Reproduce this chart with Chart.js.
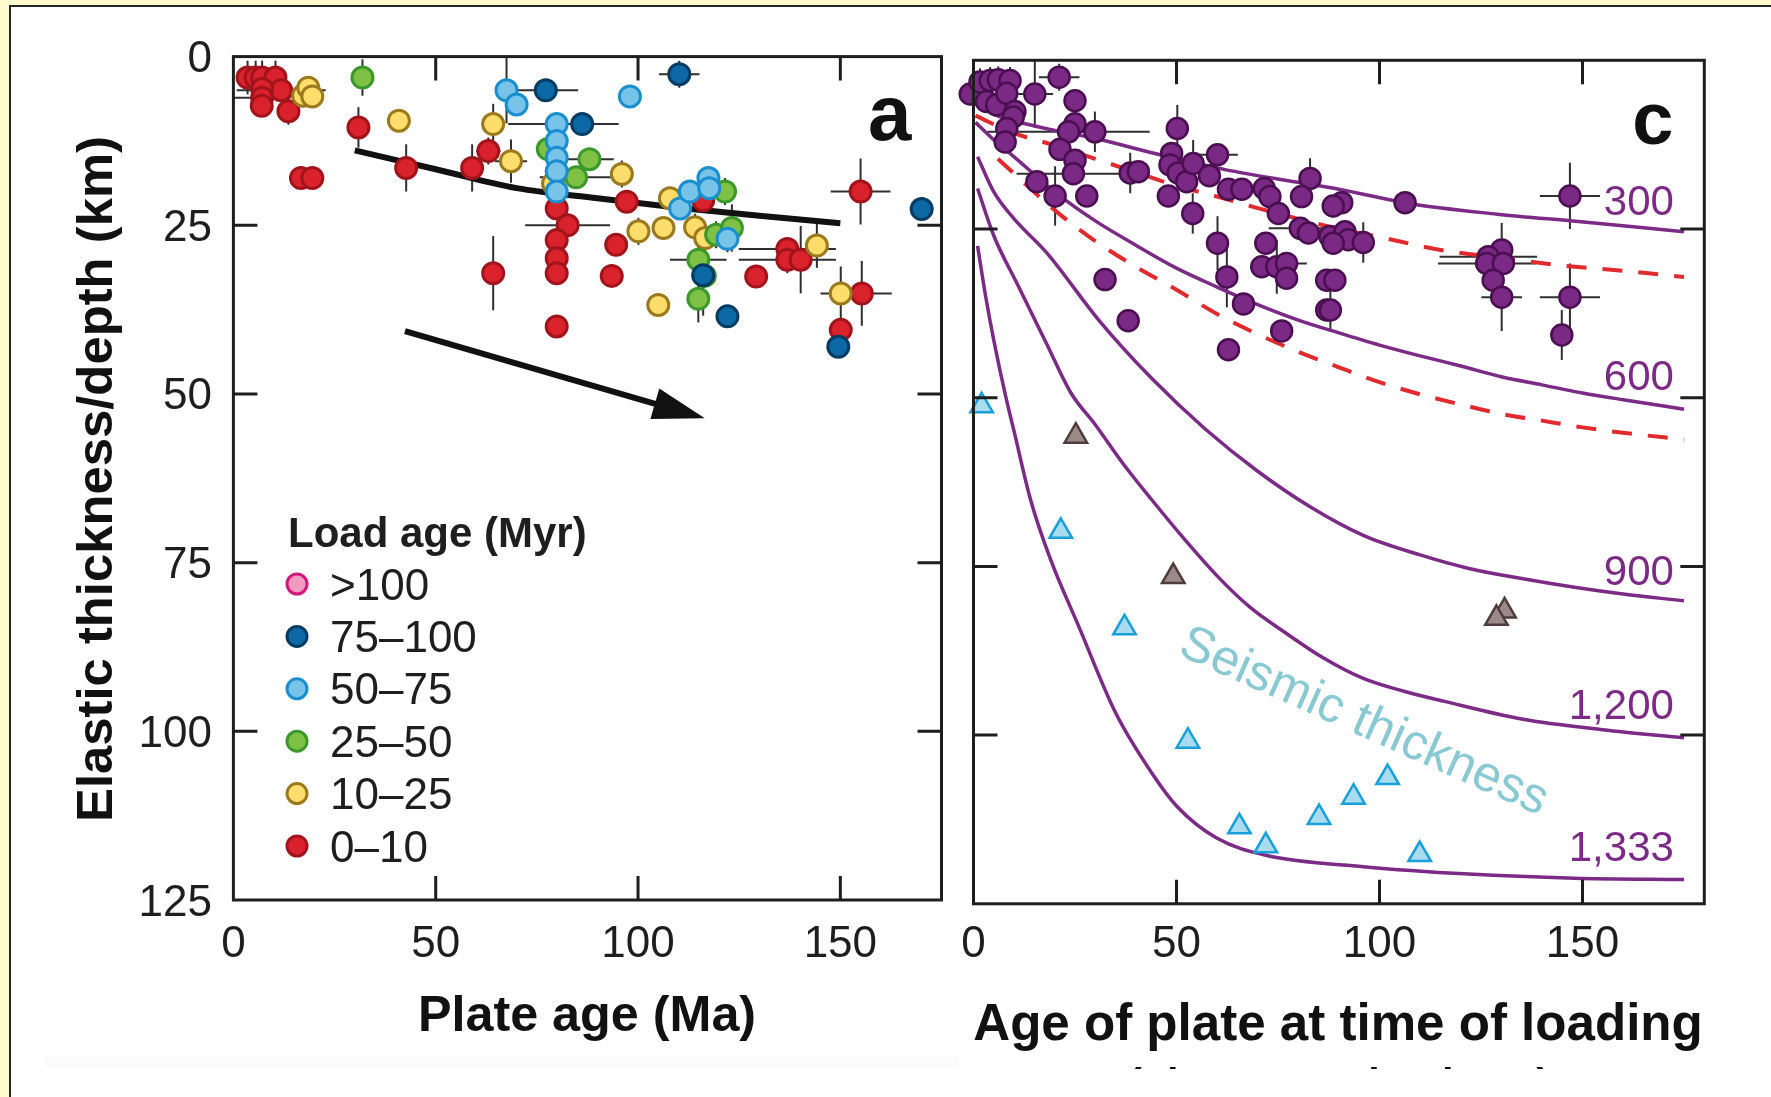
<!DOCTYPE html>
<html lang="en">
<head>
<meta charset="utf-8">
<title>Elastic thickness vs plate age</title>
<script src="https://cdn.jsdelivr.net/npm/chart.js@4.4.1/dist/chart.umd.min.js"></script>
<style>
    html, body { margin: 0; padding: 0; background: #ffffff; }
    body { position: relative; width: 1771px; height: 1097px; overflow: hidden; }
    .edge { position: absolute; }
    #strip-left { left: 0; top: 0; width: 9px; height: 1097px; background: #fffacd; }
    #strip-top { left: 0; top: 0; width: 1771px; height: 5px; background: #fffacd; }
    #rule-left { left: 9px; top: 5px; width: 2px; height: 1092px; background: #262626; }
    #rule-top { left: 9px; top: 5px; width: 1762px; height: 2px; background: #262626; }
    canvas { position: absolute; left: 0; top: 0; }
</style>
</head>
<body>
<div class="edge" id="strip-left"></div>
<div class="edge" id="strip-top"></div>
<div class="edge" id="rule-left"></div>
<div class="edge" id="rule-top"></div>
<canvas id="panel-a" width="1771" height="1097"></canvas>
<canvas id="panel-c" width="1771" height="1097"></canvas>
<script>
const FONT = "\"Liberation Sans\", Arial, Helvetica, sans-serif";
const INK = "#1e1e1e";
const TICK_LEN = 24;

// ---------- panel a: Te against plate age, coloured by load age ----------
const plateAgeTicks = [0, 50, 100, 150];
const depthTicks = [0, 25, 50, 75, 100, 125];
const innerXMarks = [50, 100, 150];
const innerYMarks = [25, 50, 75, 100];

const loadAgeLabels = [">100", "75–100", "50–75", "25–50", "10–25", "0–10"];
const loadAgeFills = ["#f29bc1", "#0d68a6", "#78c4e9", "#7fc144", "#fddd6c", "#d9222b"];
const loadAgeEdges = ["#d3177c", "#063b62", "#1a8fd0", "#3a982c", "#9a7a1c", "#a2141c"];

// rows: [plate age (Ma), Te (km), age error, Te error]
const loadOver100 = [];
const load75to100 = [
    [77.2, 5.0, 8, 1.5], [86.2, 10.0, 9, 0], [110.2, 2.6, 5, 2], [116.1, 32.4, 0, 6],
    [122.1, 38.5, 0, 0], [149.5, 43.0, 0, 0], [170.1, 22.6, 0, 1.5],
];
const load50to75 = [
    [67.5, 5.0, 0, 4.9], [70.0, 7.1, 0, 0], [98.0, 5.9, 0, 0], [79.9, 10.0, 12, 0],
    [79.9, 12.5, 0, 0], [79.9, 15.0, 0, 0], [79.9, 17.0, 0, 0], [79.9, 20.0, 0, 0],
    [110.4, 22.5, 0, 0], [112.8, 20.0, 0, 0], [117.4, 18.0, 0, 0], [117.6, 19.5, 0, 0],
    [122.1, 27.0, 0, 2],
];
const load25to50 = [
    [31.9, 3.1, 0, 2.7], [77.7, 13.7, 0, 0], [84.7, 17.9, 9, 0], [88.0, 15.2, 6, 0],
    [121.5, 20.0, 0, 2], [119.3, 26.4, 0, 2], [123.2, 25.4, 0, 3.5], [114.9, 30.1, 7, 2.5],
    [116.5, 32.5, 0, 0], [114.9, 35.9, 0, 3.5],
];
const load10to25 = [
    [17.2, 5.8, 5, 0], [18.5, 4.6, 0, 0], [19.5, 5.9, 0, 0], [40.9, 9.5, 0, 0],
    [64.2, 10.0, 0, 3], [68.6, 15.5, 4, 3.2], [79.0, 18.8, 0, 0], [96.0, 17.4, 0, 2],
    [107.9, 21.0, 0, 0], [100.1, 25.9, 0, 2], [106.3, 25.4, 0, 0], [114.1, 25.3, 0, 2],
    [116.6, 26.9, 0, 2], [105.0, 36.8, 0, 1], [144.2, 28.0, 0, 3.3], [150.1, 35.1, 5, 4],
];
const load0to10 = [
    [3.5, 3.1, 0, 2.5], [5.5, 3.1, 0, 2.5], [7.1, 3.1, 0, 2.5], [10.4, 3.1, 0, 2.5],
    [11.8, 5.0, 11, 0], [7.1, 4.8, 0, 0], [7.1, 6.1, 7, 0], [7.0, 7.3, 0, 0],
    [13.6, 8.1, 0, 2], [16.7, 18.0, 0, 0], [19.5, 18.0, 0, 0], [30.9, 10.5, 0, 3],
    [42.7, 16.5, 0, 3.5], [59.0, 16.5, 0, 3.5], [63.0, 14.0, 3, 2], [64.2, 32.1, 0, 5.5],
    [79.9, 22.5, 0, 0], [82.6, 25.0, 10.5, 0], [79.9, 27.2, 0, 0], [79.9, 29.9, 0, 0],
    [79.9, 32.1, 0, 0.8], [79.9, 40.0, 0, 0], [97.2, 21.5, 0, 0], [116.1, 21.3, 0, 0],
    [94.6, 27.9, 0, 1.5], [93.5, 32.5, 0, 0], [129.2, 32.6, 0, 1.5], [136.9, 28.5, 12, 0],
    [136.9, 30.1, 12, 2], [140.2, 30.1, 0, 5], [155.0, 20.0, 7.4, 4.9], [155.3, 35.1, 7.4, 4.8],
    [150.1, 40.5, 0, 0],
];

const trendAge = [30, 50, 70, 90, 110, 130, 150];
const trendTe = [13.9, 16.7, 19.5, 21.0, 22.4, 23.6, 24.7];
const arrowFrom = [42.4, 40.7];
const arrowTo = [116.5, 53.6];

// ---------- panel c: Te against age of plate at time of loading ----------
const loadingAgeTicks = [0, 50, 100, 150];

const purpleTe = [
    [-0.8, 5.0, 0, 0], [1.6, 3.2, 0, 2], [4.1, 3.0, 0, 2], [6.1, 2.9, 0, 2], [9.0, 3.0, 0, 2],
    [3.2, 6.1, 0, 0], [5.7, 6.6, 0, 0], [8.2, 4.9, 0, 0], [10.2, 7.6, 0, 0], [9.8, 8.4, 0, 0],
    [8.2, 10.1, 0, 0], [7.8, 12.1, 0, 0], [15.1, 5.0, 4.5, 5], [21.1, 2.5, 5, 2],
    [25.0, 6.0, 0, 0], [25.0, 9.4, 0, 0], [23.4, 10.6, 20, 0], [29.9, 10.6, 0, 3],
    [21.3, 13.2, 0, 0], [25.0, 14.8, 0, 0], [24.6, 16.8, 14, 0], [27.9, 20.1, 0, 0],
    [15.6, 18.0, 0, 0], [20.1, 20.1, 0, 4.4], [32.4, 32.5, 0, 0], [38.1, 38.6, 0, 0],
    [38.6, 16.7, 0, 3], [40.6, 16.5, 0, 0], [50.2, 10.1, 0, 3.5], [48.8, 13.8, 0, 0],
    [48.4, 15.5, 0, 0], [50.4, 16.7, 0, 0], [52.5, 18.0, 0, 0], [48.0, 20.1, 0, 0],
    [54.1, 15.3, 0, 3.5], [54.0, 22.7, 0, 3], [60.1, 14.0, 5, 0], [58.1, 17.1, 0, 0],
    [62.8, 19.1, 0, 0], [66.1, 19.1, 0, 0], [60.1, 27.1, 0, 4], [62.4, 32.1, 0, 4.5],
    [66.5, 36.1, 0, 0], [62.8, 42.9, 0, 0], [75.9, 40.1, 0, 0], [71.6, 19.0, 0, 0],
    [73.0, 20.2, 0, 0], [75.1, 22.7, 0, 0], [82.9, 17.5, 0, 3], [80.8, 20.2, 0, 0],
    [80.5, 24.9, 7.8, 0], [82.5, 25.6, 0, 0], [72.0, 27.1, 0, 0], [71.0, 30.6, 0, 0],
    [74.7, 30.6, 0, 4], [77.1, 30.1, 5, 0], [77.1, 32.3, 0, 0], [87.0, 32.6, 0, 0],
    [87.0, 37.0, 0, 0], [90.7, 21.1, 0, 0], [88.6, 21.6, 0, 0], [87.8, 26.1, 0, 0],
    [91.5, 25.4, 0, 0], [92.3, 26.6, 0, 0], [96.0, 27.0, 0, 3], [88.6, 27.1, 0, 0],
    [89.0, 32.6, 0, 0], [87.9, 37.0, 0, 3], [106.3, 21.1, 0, 1.5], [146.9, 20.1, 7.4, 4.9],
    [130.1, 28.1, 0, 4], [126.8, 29.1, 12, 0], [126.4, 30.1, 12, 0], [130.5, 30.1, 0, 0],
    [128.0, 32.6, 0, 0], [130.1, 35.1, 5, 5], [146.9, 35.1, 7.4, 5], [144.9, 40.7, 0, 3.7],
];

const seismicBlue = [
    [2.0, 51.2], [21.5, 69.8], [37.2, 84.1], [52.8, 100.9], [65.5, 113.6],
    [72.0, 116.4], [85.1, 112.2], [93.6, 109.2], [102.0, 106.3], [109.9, 117.7],
];
const seismicGrey = [[25.2, 55.7], [49.2, 76.5], [130.8, 81.6], [128.8, 82.7]];

// isotherm depths (km) against loading age (Ma)
const iso300 = [
    [0.5, 6.5], [5, 8.0], [12, 9.3], [20, 10.4], [30, 11.6], [46, 14.0], [62, 16.2],
    [79, 18.0], [90, 19.1], [108, 21.3], [129, 22.8], [149, 23.9], [175, 25.4],
];
const iso600 = [
    [0.5, 9.2], [5, 11.8], [10, 14.3], [20, 19.5], [30, 23.8], [40, 27.4], [50, 30.8],
    [60, 33.6], [70, 36.2], [80, 38.5], [90, 40.4], [100, 42.2], [110, 43.8], [120, 45.3],
    [130, 46.9], [140, 48.1], [150, 49.3], [160, 50.3], [175, 51.7],
];
const iso900 = [
    [1, 14.3], [5, 19.5], [10, 23.5], [18, 28.5], [31, 38.6], [44, 47.2], [57, 54.6],
    [70, 60.9], [83, 66.2], [96, 70.4], [110, 73.3], [122, 75.3], [135, 76.8], [148, 78.1],
    [160, 79.1], [175, 80.1],
];
const iso1200 = [
    [1, 19.0], [5, 26.0], [11, 33.4], [18, 42.0], [24, 49.3], [30, 54.0], [37, 59.9],
    [44, 65.2], [52, 71.0], [60, 76.4], [68, 81.0], [77, 84.9], [86, 88.5], [96, 91.6],
    [106, 93.5], [116, 95.0], [135, 97.6], [155, 99.2], [175, 100.4],
];
const iso1333 = [
    [1, 27.5], [3, 35.0], [5, 41.5], [8, 50.0], [10, 55.0], [14, 65.0], [19, 74.0],
    [26, 84.0], [35, 96.7], [44, 105.7], [50, 110.5], [60, 115.3], [72, 117.8],
    [96, 119.5], [122, 120.6], [148, 121.2], [175, 121.4],
];
const dashUpper = [
    [0.5, 8.2], [10, 10.8], [20, 12.6], [30, 14.6], [40, 16.6], [50, 18.6], [60, 20.2],
    [70, 21.9], [80, 23.5], [90, 25.0], [100, 26.2], [115, 28.1], [130, 29.3], [145, 30.4],
    [160, 31.2], [175, 32.1],
];
const dashLower = [
    [6, 14.6], [10, 16.8], [20, 22.2], [30, 26.8], [40, 30.6], [50, 34.0], [60, 37.6],
    [70, 40.6], [80, 43.2], [90, 45.5], [100, 47.7], [110, 49.5], [120, 51.0], [130, 52.4],
    [140, 53.4], [150, 54.4], [160, 55.2], [175, 56.2],
];

const isoLabels = ["300", "600", "900", "1,200", "1,333"];
const isoLabelDepth = [22.9, 48.9, 77.8, 97.6, 118.7];
const isoLabelAge = 172.5;
const seismicLabelAt = [96.1, 98.1];

// ---------- helpers ----------
const toXY = (rows) => rows.map((row) => ({ x: row[0], y: row[1] }));

const pointSet = (rows, fill, edge, order, extra) => Object.assign({
    data: toXY(rows),
    errs: rows.map((row) => [row[2] || 0, row[3] || 0]),
    backgroundColor: fill,
    borderColor: edge,
    borderWidth: 3,
    pointRadius: 10.5,
    pointHoverRadius: 10.5,
    order: order,
    clip: false,
}, extra || {});

const curveSet = (rows, color, width, dash) => ({
    data: toXY(rows),
    showLine: true,
    borderColor: color,
    borderWidth: width,
    borderDash: dash || [],
    pointRadius: 0,
    pointHoverRadius: 0,
    cubicInterpolationMode: "monotone",
    fill: false,
    clip: false,
    order: 10,
});

const fitFont = (ctx, text, weight, width) => {
    ctx.font = `${weight} 100px ${FONT}`;
    const size = (100 * width) / ctx.measureText(text).width;
    ctx.font = `${weight} ${size.toFixed(1)}px ${FONT}`;
};

function drawErrorBars(chart) {
    const { ctx, scales: { x, y } } = chart;
    ctx.save();
    ctx.strokeStyle = "#2f2f2f";
    ctx.lineWidth = 2;
    chart.data.datasets.forEach((ds) => {
        if (!ds.errs) {
            return;
        }
        ds.data.forEach((p, i) => {
            const [xe, ye] = ds.errs[i];
            const px = x.getPixelForValue(p.x);
            const py = y.getPixelForValue(p.y);
            ctx.beginPath();
            if (xe) {
                ctx.moveTo(x.getPixelForValue(p.x - xe), py);
                ctx.lineTo(x.getPixelForValue(p.x + xe), py);
            }
            if (ye) {
                ctx.moveTo(px, y.getPixelForValue(p.y - ye));
                ctx.lineTo(px, y.getPixelForValue(p.y + ye));
            }
            ctx.stroke();
        });
    });
    ctx.restore();
}

function drawFrame(chart) {
    const { ctx, chartArea: a, scales: { x, y } } = chart;
    ctx.save();
    ctx.strokeStyle = INK;
    ctx.lineWidth = 3;
    ctx.strokeRect(a.left, a.top, a.right - a.left, a.bottom - a.top);
    ctx.beginPath();
    innerXMarks.forEach((v) => {
        const px = x.getPixelForValue(v);
        ctx.moveTo(px, a.top);
        ctx.lineTo(px, a.top + TICK_LEN);
        ctx.moveTo(px, a.bottom);
        ctx.lineTo(px, a.bottom - TICK_LEN);
    });
    innerYMarks.forEach((v) => {
        const py = y.getPixelForValue(v);
        ctx.moveTo(a.left, py);
        ctx.lineTo(a.left + TICK_LEN, py);
        ctx.moveTo(a.right, py);
        ctx.lineTo(a.right - TICK_LEN, py);
    });
    ctx.stroke();
    ctx.restore();
}

function drawXTickLabels(chart, ticks) {
    const { ctx, scales: { x } } = chart;
    ctx.save();
    ctx.fillStyle = INK;
    ctx.font = `44px ${FONT}`;
    ctx.textAlign = "center";
    ticks.forEach((v) => ctx.fillText(String(v), x.getPixelForValue(v), 957));
    ctx.restore();
}

function drawArrow(chart, from, to) {
    const { ctx, scales: { x, y } } = chart;
    const x0 = x.getPixelForValue(from[0]);
    const y0 = y.getPixelForValue(from[1]);
    const x1 = x.getPixelForValue(to[0]);
    const y1 = y.getPixelForValue(to[1]);
    const ang = Math.atan2(y1 - y0, x1 - x0);
    const head = 52;
    const half = 16;
    const bx = x1 - head * Math.cos(ang);
    const by = y1 - head * Math.sin(ang);
    ctx.save();
    ctx.strokeStyle = "#111";
    ctx.fillStyle = "#111";
    ctx.lineWidth = 6;
    ctx.beginPath();
    ctx.moveTo(x0, y0);
    ctx.lineTo(bx + 4 * Math.cos(ang), by + 4 * Math.sin(ang));
    ctx.stroke();
    ctx.beginPath();
    ctx.moveTo(x1, y1);
    ctx.lineTo(bx + half * Math.sin(ang), by - half * Math.cos(ang));
    ctx.lineTo(bx - half * Math.sin(ang), by + half * Math.cos(ang));
    ctx.closePath();
    ctx.fill();
    ctx.restore();
}

function decoratePanelA(chart) {
    const { ctx, chartArea: a, scales: { y } } = chart;
    drawFrame(chart);
    drawXTickLabels(chart, plateAgeTicks);
    drawArrow(chart, arrowFrom, arrowTo);

    ctx.save();
    ctx.fillStyle = INK;
    ctx.font = `44px ${FONT}`;
    ctx.textAlign = "right";
    depthTicks.forEach((v) => ctx.fillText(String(v), 212, y.getPixelForValue(v) + 15.5));

    // panel letter
    ctx.textAlign = "left";
    ctx.fillStyle = "#111";
    ctx.font = `bold 78px ${FONT}`;
    ctx.fillText("a", a.right - 73.5, a.top + 83.4);

    // legend
    ctx.fillStyle = INK;
    ctx.font = `bold 42px ${FONT}`;
    ctx.fillText("Load age (Myr)", 288, 547);
    loadAgeLabels.forEach((label, i) => {
        const cy = 584 + i * 52.4;
        ctx.beginPath();
        ctx.arc(297, cy, 10, 0, Math.PI * 2);
        ctx.fillStyle = loadAgeFills[i];
        ctx.fill();
        ctx.lineWidth = 3;
        ctx.strokeStyle = loadAgeEdges[i];
        ctx.stroke();
        ctx.fillStyle = INK;
        ctx.font = `44px ${FONT}`;
        ctx.fillText(label, 330, cy + 15.5);
    });

    // axis titles
    ctx.fillStyle = "#111";
    ctx.textAlign = "center";
    fitFont(ctx, "Plate age (Ma)", "bold", 338);
    ctx.fillText("Plate age (Ma)", 587, 1031);
    ctx.translate(112, 479);
    ctx.rotate(-Math.PI / 2);
    fitFont(ctx, "Elastic thickness/depth (km)", "bold", 686);
    ctx.fillText("Elastic thickness/depth (km)", 0, 0);
    ctx.restore();

    // very faint strip under the panels
    ctx.save();
    ctx.fillStyle = "#fbfbfb";
    ctx.fillRect(45, 1056, 913, 12);
    ctx.restore();
}

function decoratePanelC(chart) {
    const { ctx, chartArea: a, scales: { x, y } } = chart;
    drawFrame(chart);
    drawXTickLabels(chart, loadingAgeTicks);

    ctx.save();
    ctx.fillStyle = "#111";
    ctx.font = `bold 74px ${FONT}`;
    ctx.textAlign = "left";
    ctx.fillText("c", a.right - 72, a.top + 83.7);

    ctx.fillStyle = "#7b2a86";
    ctx.font = `42px ${FONT}`;
    ctx.textAlign = "right";
    isoLabels.forEach((label, i) => {
        ctx.fillText(label, x.getPixelForValue(isoLabelAge), y.getPixelForValue(isoLabelDepth[i]));
    });

    ctx.translate(x.getPixelForValue(seismicLabelAt[0]), y.getPixelForValue(seismicLabelAt[1]));
    ctx.rotate((24 * Math.PI) / 180);
    ctx.fillStyle = "#89c9d2";
    ctx.font = `50px ${FONT}`;
    ctx.textAlign = "center";
    ctx.textBaseline = "middle";
    ctx.fillText("Seismic thickness", 0, 0);
    ctx.restore();

    ctx.save();
    ctx.fillStyle = "#111";
    ctx.textAlign = "center";
    fitFont(ctx, "Age of plate at time of loading", "bold", 729);
    ctx.fillText("Age of plate at time of loading", 1338, 1040);
    // second title line is cut off by the page edge in the original
    ctx.beginPath();
    ctx.rect(0, 0, 1771, 1069);
    ctx.clip();
    fitFont(ctx, "(plate age − load age)", "bold", 422);
    ctx.fillText("(plate age − load age)", 1339, 1097);
    ctx.restore();
}

const makeDecor = (draw) => ({
    id: "decor",
    beforeDatasetsDraw(chart) {
        drawErrorBars(chart);
    },
    afterDraw(chart) {
        draw(chart);
    },
});

const baseOptions = (padding, xMax) => ({
    responsive: false,
    animation: false,
    devicePixelRatio: 1,
    events: [],
    layout: { padding: padding },
    plugins: {
        legend: { display: false },
        tooltip: { enabled: false },
    },
    scales: {
        x: { type: "linear", min: 0, max: xMax, display: false },
        y: { type: "linear", min: 0, max: 125, reverse: true, display: false },
    },
});

Chart.defaults.font.family = FONT;

new Chart(document.getElementById("panel-a"), {
    type: "scatter",
    data: {
        datasets: [
            pointSet(load50to75, loadAgeFills[2], loadAgeEdges[2], 1),
            pointSet(load75to100, loadAgeFills[1], loadAgeEdges[1], 2),
            pointSet(load25to50, loadAgeFills[3], loadAgeEdges[3], 3),
            pointSet(load10to25, loadAgeFills[4], loadAgeEdges[4], 4),
            pointSet(load0to10, loadAgeFills[5], loadAgeEdges[5], 5),
            pointSet(loadOver100, loadAgeFills[0], loadAgeEdges[0], 6),
            curveSet(trendAge.map((v, i) => [v, trendTe[i]]), "#111111", 6),
        ],
    },
    options: baseOptions({ left: 233.4, top: 56.6, right: 829.5, bottom: 197 }, 175),
    plugins: [makeDecor(decoratePanelA)],
});

new Chart(document.getElementById("panel-c"), {
    type: "scatter",
    data: {
        datasets: [
            pointSet(seismicBlue, "#a9dcef", "#19a0d8", 1, { pointStyle: "triangle", pointRadius: 13, borderWidth: 2.5 }),
            pointSet(seismicGrey, "#9c8a88", "#4e3d3c", 1, { pointStyle: "triangle", pointRadius: 13, borderWidth: 2.5 }),
            pointSet(purpleTe, "#7a2a84", "#4a0f50", 2, { borderWidth: 2.5 }),
            curveSet(iso300, "#7b2a86", 3.5),
            curveSet(dashUpper, "#e02a2e", 4, [20, 16]),
            curveSet(iso600, "#7b2a86", 3.5),
            curveSet(dashLower, "#e02a2e", 4, [20, 16]),
            curveSet(iso900, "#7b2a86", 3.5),
            curveSet(iso1200, "#7b2a86", 3.5),
            curveSet(iso1333, "#7b2a86", 3.5),
        ],
    },
    options: baseOptions({ left: 973.5, top: 60.3, right: 66.7, bottom: 193.2 }, 180),
    plugins: [makeDecor(decoratePanelC)],
});
</script>
</body>
</html>
